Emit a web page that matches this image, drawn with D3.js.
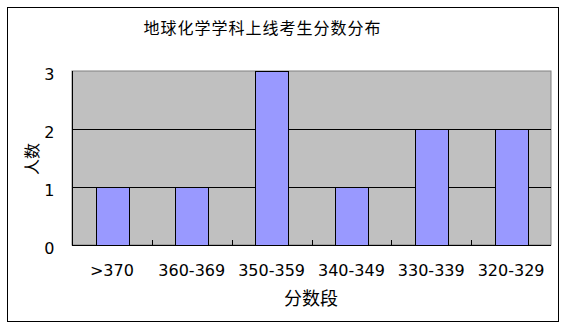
<!DOCTYPE html>
<html>
<head>
<meta charset="utf-8">
<script src="https://cdn.jsdelivr.net/npm/d3@7"></script>
<style>
  body { margin: 0; background: #fff; }
  text { font-family: "DejaVu Sans", sans-serif; fill: #000; }
  .cjk { font-family: "Noto Sans CJK SC", sans-serif; }
</style>
</head>
<body>
<div class="chart"></div>
<script>
// data
const categories = [">370", "360-369", "350-359", "340-349", "330-339", "320-329"];
const counts = [1, 1, 3, 1, 2, 2];
const yTicks = [0, 1, 2, 3];
const title = "地球化学学科上线考生分数分布";

const width = 567, height = 328;
const plot = { left: 72, right: 551, top: 71, bottom: 245 };

const svg = d3.select("div.chart").append("svg")
    .attr("width", width)
    .attr("height", height);

// outer frame
svg.append("rect")
    .attr("x", 7.5).attr("y", 7.5)
    .attr("width", 551).attr("height", 314)
    .attr("fill", "#fff")
    .attr("stroke", "#000")
    .attr("stroke-width", 1);

let x = d3.scaleBand()
    .domain(categories)
    .range([plot.left, plot.right])
    .paddingInner(0)
    .paddingOuter(0);

let y = d3.scaleLinear()
    .domain([0, 3])
    .range([plot.bottom, plot.top]);

// plot area background
svg.append("rect")
    .attr("x", plot.left).attr("y", plot.top)
    .attr("width", plot.right - plot.left)
    .attr("height", plot.bottom - plot.top)
    .attr("fill", "#c0c0c0")
    .attr("stroke", "#808080");

// gridlines
svg.selectAll("line.grid")
    .data(yTicks.filter(d => d > 0 && d < 3))
    .enter().append("line")
    .attr("class", "grid")
    .attr("x1", plot.left).attr("x2", plot.right)
    .attr("y1", d => Math.round(y(d)) + 0.5)
    .attr("y2", d => Math.round(y(d)) + 0.5)
    .attr("stroke", "#000");

// bars
let barW = x.bandwidth() * 0.41;
svg.selectAll("rect.bar")
    .data(counts)
    .enter().append("rect")
    .attr("class", "bar")
    .attr("x", (d, i) => Math.round(x(categories[i]) + (x.bandwidth() - barW) / 2) + 0.5)
    .attr("y", d => Math.round(y(d)) + 0.5)
    .attr("width", Math.round(barW))
    .attr("height", d => Math.round(y(0)) - Math.round(y(d)))
    .attr("fill", "#9999ff")
    .attr("stroke", "#000")
    .attr("stroke-width", 1);

// x axis: line plus small inward ticks at category boundaries
let xAxis = d3.axisBottom(x).tickSize(0).tickPadding(19);
let gx = svg.append("g")
    .attr("transform", `translate(0,${Math.round(plot.bottom) + 0.5})`)
    .call(xAxis);
gx.select(".domain").attr("stroke", "#000").attr("d", `M${plot.left},0H${plot.right}`);
gx.selectAll("text")
    .style("font-size", "16px")
    .style("font-family", "DejaVu Sans, sans-serif");

svg.selectAll("line.xtick")
    .data(categories.slice(1))
    .enter().append("line")
    .attr("class", "xtick")
    .attr("x1", d => Math.round(x(d)) + 0.5)
    .attr("x2", d => Math.round(x(d)) + 0.5)
    .attr("y1", plot.bottom)
    .attr("y2", plot.bottom - 5)
    .attr("stroke", "#000");

// y axis
let yAxis = d3.axisLeft(y).tickValues(yTicks).tickFormat(d3.format("d")).tickSize(0).tickPadding(18);
let gy = svg.append("g")
    .attr("transform", `translate(${plot.left + 0.5},0)`)
    .call(yAxis);
gy.select(".domain").attr("stroke", "#000").attr("d", `M0,${plot.top}V${plot.bottom}`);
gy.selectAll("text")
    .attr("dy", "0.55em")
    .style("font-size", "16px")
    .style("font-family", "DejaVu Sans, sans-serif");

// title and axis labels
svg.append("text")
    .attr("class", "cjk")
    .attr("x", 262).attr("y", 34)
    .attr("text-anchor", "middle")
    .style("font-size", "16px")
    .attr("textLength", 237)
    .text(title);

svg.append("text")
    .attr("class", "cjk")
    .attr("transform", "translate(38,159) rotate(-90)")
    .attr("text-anchor", "middle")
    .style("font-size", "16px")
    .text("人数");

svg.append("text")
    .attr("class", "cjk")
    .attr("x", 311).attr("y", 305)
    .attr("text-anchor", "middle")
    .style("font-size", "18px")
    .text("分数段");
</script>
</body>
</html>
